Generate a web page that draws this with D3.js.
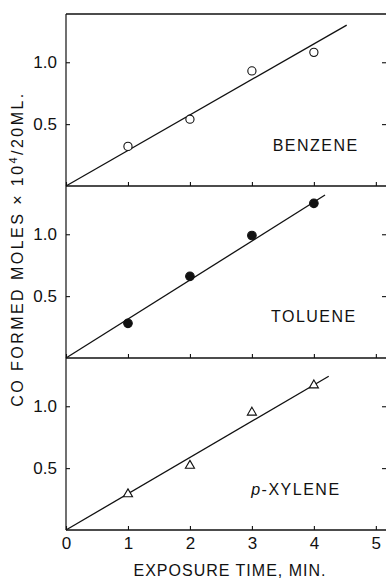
<!DOCTYPE html>
<html>
<head>
<meta charset="utf-8">
<script src="https://cdn.jsdelivr.net/npm/d3@7"></script>
<style>
  body { margin: 0; background: #fff; }
  svg { display: block; font-family: "Liberation Sans", Arial, sans-serif; }
</style>
</head>
<body>
<div id="chart"></div>
<script>
// Data (moles x 10^4 / 20 ml vs. minutes)
const times = [1, 2, 3, 4];
const benzene = [0.32, 0.54, 0.93, 1.08];
const toluene = [0.28, 0.66, 0.99, 1.25];
const xylene = [0.29, 0.52, 0.95, 1.17];

// fitted lines through the origin: slope and where the line stops
const fitSlopes = [0.287, 0.315, 0.293];
const fitEnds = [4.53, 4.18, 4.24];

const panelNames = ["BENZENE", "TOLUENE", "p-XYLENE"];
const markers = ["open-circle", "filled-circle", "open-triangle"];
const xTicks = [0, 1, 2, 3, 4, 5];
const yTicks = [0.5, 1.0];
const yTickLabels = ["0.5", "1.0"];

const series = [benzene, toluene, xylene];

// Layout
const W = 386, H = 578;
const plotLeft = 66, plotRight = 387;
const plotTop = 14, panelH = 172;
const ink = "#111";

const svg = d3.select("#chart")
    .append("svg")
    .attr("width", W)
    .attr("height", H);

const x = d3.scaleLinear()
    .domain([0, 5.18])
    .range([plotLeft, plotRight]);

// label anchor positions inside each panel (data units)
const labelPos = [[4.03, 0.28], [4.0, 0.29], [3.71, 0.28]];

series.forEach((vals, i) => {
    const y0 = plotTop + i * panelH;
    const y = d3.scaleLinear()
        .domain([0, 1.39])
        .range([y0 + panelH, y0]);

    const g = svg.append("g");

    // bottom axis (ticks pointing up)
    const xAxis = d3.axisBottom(x)
        .tickValues(xTicks)
        .tickSize(-4)
        .tickPadding(7)
        .tickFormat(i === 2 ? d3.format("d") : () => "");
    const gx = g.append("g")
        .attr("transform", `translate(0,${y0 + panelH})`)
        .call(xAxis);
    gx.select(".domain").remove();
    gx.selectAll("line").attr("stroke", ink).attr("stroke-width", 1.1);
    gx.selectAll("text")
        .attr("fill", ink)
        .style("font-size", "17px")
        .style("font-family", "Liberation Sans, Arial, sans-serif");

    // left axis (ticks pointing in)
    const gy = g.append("g")
        .attr("transform", `translate(${plotLeft},0)`)
        .call(d3.axisLeft(y)
            .tickValues(yTicks)
            .tickSize(-4)
            .tickPadding(9)
            .tickFormat((d, k) => yTickLabels[k]));
    gy.select(".domain").remove();
    gy.selectAll("line").attr("stroke", ink).attr("stroke-width", 1.1);
    gy.selectAll("text")
        .attr("fill", ink)
        .style("font-size", "17px")
        .style("font-family", "Liberation Sans, Arial, sans-serif");

    // right axis ticks
    const gr = g.append("g")
        .attr("transform", `translate(${W},0)`)
        .call(d3.axisRight(y).tickValues(yTicks).tickSize(-4).tickFormat(() => ""));
    gr.select(".domain").remove();
    gr.selectAll("line").attr("stroke", ink).attr("stroke-width", 1.1);

    // bottom line of panel
    g.append("line")
        .attr("x1", plotLeft).attr("x2", W)
        .attr("y1", y(0)).attr("y2", y(0))
        .attr("stroke", ink).attr("stroke-width", 1.3);

    // fitted line
    g.append("line")
        .attr("x1", x(0)).attr("y1", y(0))
        .attr("x2", x(fitEnds[i])).attr("y2", y(fitSlopes[i] * fitEnds[i]))
        .attr("stroke", ink).attr("stroke-width", 1.3);

    // points
    const pts = times.map((t, k) => ({ t, v: vals[k] }));
    if (markers[i] === "open-triangle") {
        g.selectAll(".pt")
            .data(pts)
            .enter()
            .append("path")
            .attr("class", "pt")
            .attr("transform", d => `translate(${x(d.t)},${y(d.v)})`)
            .attr("d", d3.symbol().type(d3.symbolTriangle).size(36))
            .attr("fill", "#fff")
            .attr("stroke", ink)
            .attr("stroke-width", 1.1);
    } else {
        g.selectAll(".pt")
            .data(pts)
            .enter()
            .append("circle")
            .attr("class", "pt")
            .attr("cx", d => x(d.t))
            .attr("cy", d => y(d.v))
            .attr("r", markers[i] === "filled-circle" ? 4.3 : 4.1)
            .attr("fill", markers[i] === "filled-circle" ? ink : "#fff")
            .attr("stroke", ink)
            .attr("stroke-width", 1.1);
    }

    // panel label
    const lbl = g.append("text")
        .attr("x", x(labelPos[i][0]))
        .attr("y", y(labelPos[i][1]))
        .attr("text-anchor", "middle")
        .attr("fill", ink)
        .style("font-size", "16px")
        .style("letter-spacing", "1.5px");
    if (panelNames[i].startsWith("p-")) {
        lbl.append("tspan").style("font-style", "italic").text("p");
        lbl.append("tspan").text(panelNames[i].slice(1));
    } else {
        lbl.text(panelNames[i]);
    }
});

// frame: top border and left spine
svg.append("line")
    .attr("x1", plotLeft).attr("x2", W)
    .attr("y1", plotTop).attr("y2", plotTop)
    .attr("stroke", ink).attr("stroke-width", 1.3);
svg.append("line")
    .attr("x1", plotLeft).attr("x2", plotLeft)
    .attr("y1", plotTop).attr("y2", plotTop + 3 * panelH)
    .attr("stroke", ink).attr("stroke-width", 1.2);

// axis titles
svg.append("text")
    .attr("x", 230)
    .attr("y", 576)
    .attr("text-anchor", "middle")
    .attr("fill", ink)
    .style("font-size", "16px")
    .style("letter-spacing", "1px")
    .text("EXPOSURE TIME, MIN.");

const yt = svg.append("text")
    .attr("transform", "translate(23,249) rotate(-90)")
    .attr("text-anchor", "middle")
    .attr("fill", ink)
    .style("font-size", "16px")
    .style("letter-spacing", "2.45px");
yt.append("tspan").text("CO FORMED MOLES \u00d7 10");
yt.append("tspan").attr("dy", -6).style("font-size", "11px").text("4");
yt.append("tspan").attr("dy", 6).text("/20ML.");
</script>
</body>
</html>
